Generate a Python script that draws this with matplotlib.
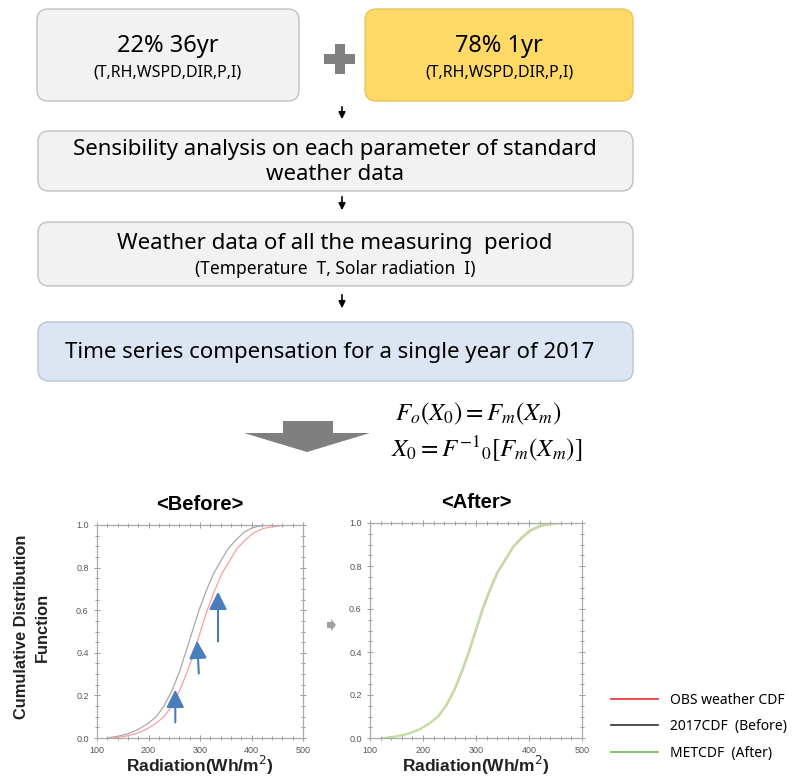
import matplotlib
matplotlib.use('Agg')
import matplotlib.pyplot as plt
from matplotlib.patches import FancyBboxPatch, Rectangle, Polygon
from matplotlib.lines import Line2D

# CDF curves
cdf2017_x = [120, 140, 160, 180, 200, 215, 230, 245, 260, 272, 285, 298, 312, 326, 340, 355, 370, 385, 400, 415, 430]
cdf2017_y = [0.0, 0.008, 0.02, 0.04, 0.07, 0.1, 0.15, 0.22, 0.31, 0.4, 0.5, 0.6, 0.69, 0.77, 0.83, 0.89, 0.93, 0.965, 0.985, 0.995, 1.0]
obs_x = [130, 155, 175, 195, 215, 230, 245, 260, 275, 288, 301, 314, 328, 342, 357, 372, 388, 405, 425, 450, 475]
obs_y = [0.0, 0.008, 0.02, 0.04, 0.07, 0.1, 0.15, 0.22, 0.31, 0.4, 0.5, 0.6, 0.69, 0.77, 0.83, 0.89, 0.93, 0.965, 0.985, 0.995, 1.0]
met_x = [125, 150, 172, 193, 213, 228, 243, 258, 273, 286, 299, 312, 326, 340, 355, 370, 385, 401, 418, 435, 455]
met_y = [0.0, 0.008, 0.02, 0.04, 0.07, 0.1, 0.15, 0.22, 0.31, 0.4, 0.5, 0.6, 0.69, 0.77, 0.83, 0.89, 0.93, 0.965, 0.985, 0.995, 1.0]

# blue shift arrows in <Before>
arr_x0 = [252, 298, 335]
arr_y0 = [0.06, 0.29, 0.44]
arr_x1 = [252, 294, 335]
arr_y1 = [0.24, 0.47, 0.70]

x_ticks = [100, 200, 300, 400, 500]
y_ticks = [0.0, 0.2, 0.4, 0.6, 0.8, 1.0]

legend_labels = ['OBS weather CDF', '2017CDF  (Before)', 'METCDF  (After)']
legend_colors = ['#ee3b3b', '#404040', '#7cbf5a']

W, H = 795, 779
fig = plt.figure(figsize=(W / 100, H / 100), dpi=100)
bg = fig.add_axes([0, 0, 1, 1])
bg.set_xlim(0, W)
bg.set_ylim(H, 0)
bg.axis('off')

TXT = 'Noto Sans'


def box(x0, y0, x1, y1, fc, ec='#c0c0c0'):
    p = FancyBboxPatch((x0, y0), x1 - x0, y1 - y0,
                       boxstyle='round,pad=0,rounding_size=11',
                       fc=fc, ec=ec, lw=1.0)
    bg.add_patch(p)


box(37, 9, 299, 101, '#f2f2f2')
box(365, 9, 633, 101, '#ffd966', '#e8c660')
box(38, 131, 633, 191, '#f2f2f2')
box(38, 222, 633, 286, '#f2f2f2')
box(38, 322, 633, 381, '#dce6f2', '#b8c4d2')

bg.text(168, 46, '22% 36yr', ha='center', va='center', fontsize=17, family=TXT)
bg.text(168, 72, '(T,RH,WSPD,DIR,P,I)', ha='center', va='center', fontsize=11.5, family=TXT)
bg.text(499, 46, '78% 1yr', ha='center', va='center', fontsize=17, family=TXT)
bg.text(499, 72, '(T,RH,WSPD,DIR,P,I)', ha='center', va='center', fontsize=11.5, family=TXT)
bg.text(335, 149, 'Sensibility analysis on each parameter of standard', ha='center',
        va='center', fontsize=16, family=TXT)
bg.text(335, 174, 'weather data', ha='center', va='center', fontsize=16, family=TXT)
bg.text(335, 243, 'Weather data of all the measuring  period', ha='center', va='center',
        fontsize=16, family=TXT)
bg.text(335, 269, '(Temperature  T, Solar radiation  I)', ha='center', va='center',
        fontsize=12.5, family=TXT)
bg.text(330, 352, 'Time series compensation for a single year of 2017', ha='center',
        va='center', fontsize=16, family=TXT)

# plus sign
bg.add_patch(Rectangle((324, 54), 31, 10, fc='#808080', ec='none'))
bg.add_patch(Rectangle((334.5, 44), 10, 30, fc='#808080', ec='none'))

# small flow arrows
for y0, y1 in [(104, 122), (194, 213), (292, 311)]:
    bg.annotate('', xy=(342, y1), xytext=(342, y0),
                arrowprops=dict(arrowstyle='-|>', color='black', lw=1.2, mutation_scale=10))

# big gray arrow
bg.add_patch(Polygon([(283, 421), (333, 421), (333, 433), (370, 433), (307, 452),
                      (244, 433), (283, 433)], closed=True, fc='#7f7f7f', ec='none'))

# equations
plt.rcParams['mathtext.fontset'] = 'stix'
bg.text(395, 414, r'$F_o(X_0) = F_m(X_m)$', ha='left', va='center', fontsize=18)
bg.text(391, 449, r'$X_0 = F^{-1}{}_0[F_m(X_m)]$', ha='left', va='center', fontsize=18)

# tiny arrow between the plots
bg.add_patch(Polygon([(327, 622), (331, 622), (331, 619), (336, 625), (331, 631),
                      (331, 628), (327, 628)], closed=True, fc='#a0a0a0', ec='none'))


def cdf_axes(left, right, top, bottom):
    ax = fig.add_axes([left / W, 1 - bottom / H, (right - left) / W, (bottom - top) / H])
    ax.set_xlim(100, 500)
    ax.set_ylim(0, 1)
    ax.set_xticks(x_ticks)
    ax.set_yticks(y_ticks)
    ax.set_xticklabels([str(t) for t in x_ticks], family='Liberation Sans')
    ax.set_yticklabels(['%.1f' % t for t in y_ticks], family='Liberation Sans')
    ax.set_xticks(range(100, 501, 20), minor=True)
    ax.set_yticks([i / 20 for i in range(21)], minor=True)
    ax.tick_params(which='both', direction='inout', top=True, right=True, colors='#999999',
                   labelcolor='#555555', labelsize=6.5, width=0.7)
    ax.tick_params(which='major', length=5)
    ax.tick_params(which='minor', length=2.5)
    for s in ax.spines.values():
        s.set_color('#aaaaaa')
        s.set_linewidth(0.9)
    ax.set_xlabel('Radiation(Wh/m$^2$)', fontsize=12.5, family='Liberation Sans',
                  fontweight='bold', labelpad=-1, color='#222222')
    ax.xaxis.label.set_math_fontfamily('dejavusans')
    return ax


ax1 = cdf_axes(97, 303, 525, 738)
ax1.plot(cdf2017_x, cdf2017_y, color='#a8a8a8', lw=0.9)
ax1.plot(obs_x, obs_y, color='#f5a0a0', lw=0.9)
for i in range(len(arr_x0)):
    ax1.annotate('', xy=(arr_x1[i], arr_y1[i]), xytext=(arr_x0[i], arr_y0[i]),
                 arrowprops=dict(arrowstyle='-|>,head_length=0.9,head_width=0.45',
                                 color='#4a7ebb', lw=1.5, mutation_scale=12))
ax1.set_title('<Before>', fontsize=14.5, family='Liberation Sans', fontweight='bold', pad=11)

ax2 = cdf_axes(370, 582, 523, 738)
ax2.plot(obs_x, obs_y, color='#f7b4b4', lw=0.8)
ax2.plot(met_x, met_y, color='#bfe0a0', lw=1.6)
ax2.set_title('<After>', fontsize=14.5, family='Liberation Sans', fontweight='bold', pad=11)

fig.text(32 / W, 1 - 627 / H, 'Cumulative Distribution\nFunction', rotation=90, ha='center',
         va='center', fontsize=11.8, family='Liberation Sans', fontweight='bold',
         linespacing=1.55, color='#222222')

handles = [Line2D([0], [0], color=c, lw=1.3) for c in legend_colors]
fig.legend(handles, legend_labels, loc='upper left', bbox_to_anchor=(598 / W, 1 - 680 / H),
           frameon=False, handlelength=3.4, labelspacing=0.85,
           handletextpad=0.9, prop={'family': TXT, 'size': 10})

fig.savefig('out.png', dpi=100)
